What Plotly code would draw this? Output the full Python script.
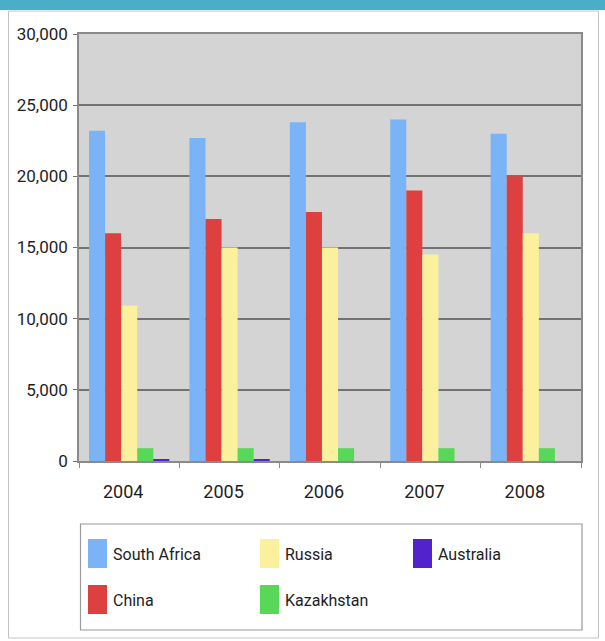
import plotly.graph_objects as go

years = ["2004", "2005", "2006", "2007", "2008"]
south_africa = [23200, 22700, 23800, 24000, 23000]
china = [16000, 17000, 17500, 19000, 20000]
russia = [10900, 15000, 15000, 14500, 16000]
kazakhstan = [900, 900, 900, 900, 900]
australia = [100, 100, 0, 0, 0]

series_names = ["South Africa", "China", "Russia", "Kazakhstan", "Australia"]
series_values = [south_africa, china, russia, kazakhstan, australia]
series_colors = ["#7ab4f7", "#de4040", "#fbf09c", "#58d858", "#5222cc"]

FONT = "Roboto, Open Sans, sans-serif"

W, H = 605, 641
L, R, T, B = 79, 24, 34, 180
pw, ph = W - L - R, H - T - B


def fx(px):
    return (px - L) / pw


def fy(py):
    return (H - B - py) / ph


idx = list(range(len(years)))
fig = go.Figure()
for name, vals, col in zip(series_names, series_values, series_colors):
    fig.add_trace(go.Bar(x=idx, y=vals, name=name, marker=dict(color=col, line=dict(width=0)),
                         showlegend=False))

shapes = []
annotations = []
# header band and panel border
shapes.append(dict(type="rect", xref="paper", yref="paper", x0=fx(0), x1=fx(W), y0=fy(0), y1=fy(10),
                   fillcolor="#4aaec8", line=dict(width=0), layer="above"))
shapes.append(dict(type="rect", xref="paper", yref="paper", x0=fx(8.5), x1=fx(598.5), y0=fy(11), y1=fy(638),
                   fillcolor="rgba(0,0,0,0)", line=dict(color="#c4c4c4", width=1), layer="above"))
# legend box
shapes.append(dict(type="rect", xref="paper", yref="paper", x0=fx(80.5), x1=fx(582), y0=fy(524), y1=fy(630),
                   fillcolor="rgba(0,0,0,0)", line=dict(color="#9a9a9a", width=1.2), layer="above"))
col_x = [88, 260, 413]
row_y = [539, 585]
for i, (name, col) in enumerate(zip(series_names, series_colors)):
    c, r = i // 2, i % 2
    sx, sy = col_x[c], row_y[r]
    shapes.append(dict(type="rect", xref="paper", yref="paper", x0=fx(sx), x1=fx(sx + 19), y0=fy(sy), y1=fy(sy + 29),
                       fillcolor=col, line=dict(width=0), layer="above"))
    annotations.append(dict(xref="paper", yref="paper", x=fx(sx + 23), y=fy(sy + 15), text=name,
                            showarrow=False, xanchor="left", yanchor="middle",
                            font=dict(family=FONT, size=16, color="#1e1e1e")))

fig.update_layout(
    width=W, height=H,
    margin=dict(l=L, r=R, t=T, b=B, pad=0),
    paper_bgcolor="white",
    plot_bgcolor="#d4d4d4",
    barmode="group", bargap=0.2, bargroupgap=0,
    shapes=shapes, annotations=annotations,
    font=dict(family=FONT, size=17, color="#1e1e1e"),
    xaxis=dict(range=[-0.5, len(years) - 0.5], tickvals=[i - 0.06 for i in idx], ticktext=years,
               ticks="", showgrid=False, zeroline=False, showline=True, linecolor="#8a8a8a", linewidth=1.5,
               mirror=True, ticklabelstandoff=14,
               minor=dict(tickvals=[i + 0.5 for i in range(-1, len(years))], ticks="outside", ticklen=5,
                          tickcolor="#8a8a8a", tickwidth=1, showgrid=False),
               tickfont=dict(family=FONT, size=18, color="#1e1e1e")),
    yaxis=dict(range=[0, 30000], dtick=5000, tickformat=",", showgrid=True, gridcolor="#727272", gridwidth=1.6,
               zeroline=False, showline=True, linecolor="#8a8a8a", linewidth=1.5, mirror=True,
               ticks="outside", ticklen=4, tickcolor="#727272", ticklabelstandoff=2,
               tickfont=dict(family=FONT, size=17, color="#1e1e1e")),
)

fig.write_html("out.html")
